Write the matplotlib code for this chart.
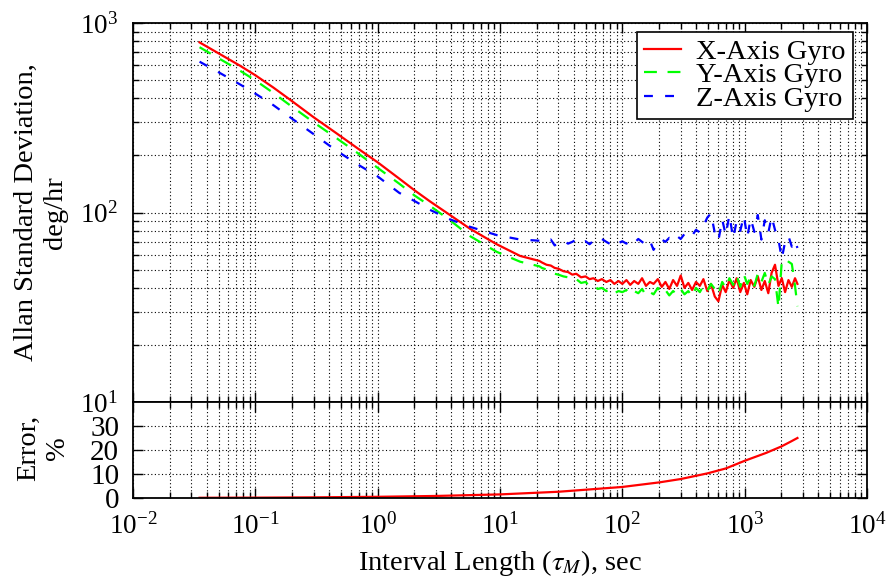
import matplotlib
matplotlib.use('Agg')
import matplotlib.pyplot as plt
from matplotlib.ticker import LogLocator, NullFormatter, FixedLocator

plt.rcParams['font.family'] = ['Liberation Serif', 'DejaVu Serif']
plt.rcParams['mathtext.fontset'] = 'stix'

# ---- data ----
tau_smooth = [0.035, 0.05, 0.075, 0.1, 0.14, 0.19, 0.3, 0.46, 0.7, 1.0, 1.5,
              2.0, 2.7, 3.9, 5.7, 9.4, 14.6, 21]
tau_noisy = [22, 24, 26, 28, 30, 33, 36, 39, 42, 46, 50, 54, 58, 63, 68, 74, 80,
             86, 93, 100, 108, 116, 125, 135, 145, 156, 168, 180, 195, 210, 225,
             242, 260, 280, 300, 322, 346, 372, 400, 430, 460, 495, 530, 570,
             610, 655, 700, 750, 805, 860, 920, 985, 1050, 1120, 1200, 1280,
             1370, 1460, 1560, 1660, 1770, 1890, 2010, 2140, 2280, 2430, 2580,
             2700]

x_smooth = [790, 692, 595, 530, 457, 396, 318, 262, 216, 184, 151, 131, 114,
            97, 82, 68, 59, 55.5]
x_noisy = [54.5, 53, 52.5, 51, 50.5, 49, 48.5, 47, 47.5, 45.5, 46, 44.5, 45,
           43.5, 44.5, 43, 44, 42, 43.5, 42, 44, 41.5, 43.5, 42, 45, 41, 43,
           42, 44.5, 40.5, 43, 39.5, 44, 41, 46.5, 40, 42.5, 39, 43, 41, 44.5,
           38.5, 42, 36, 34, 41.5, 38, 44, 40, 45, 38, 42.5, 37, 44, 40.5, 46,
           39, 43.5, 37.5, 48, 53, 41, 45, 38, 44, 40.5, 45, 42]

y_smooth = [745, 652, 560, 498, 428, 370, 299, 247, 204, 172, 142, 123, 108,
            91, 75, 62, 55, 52]
y_noisy = [51, 50, 49.5, 47.5, 47, 46, 45.5, 44, 44.5, 42.5, 43, 41, 41.5,
           39.5, 40, 38.5, 39.5, 37.5, 38.5, 38, 39, 37, 38.5, 37.5, 39.5, 36.5,
           38, 37, 40, 37.5, 39, 36.5, 38.5, 37, 39.5, 37, 38.5, 36, 40, 38, 41,
           38.5, 42, 39.5, 37, 43, 40, 45, 41.5, 46.5, 40.5, 47, 42, 45.5, 41,
           47.5, 43, 48, 41.5, 46, 44.5, 31.5, 55, 57, 55, 53.5, 41, 32]

z_smooth = [625, 550, 474, 424, 369, 320, 259, 212, 178, 155, 127, 115, 103,
            92, 84, 76, 72, 71]
z_noisy = [71.5, 70, 72, 67, 69.5, 71, 68.5, 70, 72, 69, 70.5, 68, 71, 69.5,
           72.5, 70, 68, 71, 69, 70.5, 68.5, 71.5, 69, 72.5, 70, 67.5, 71, 63.5,
           69, 72, 70, 73.5, 71, 75, 72.5, 77, 79, 75.5, 81, 78.5, 85, 94, 99, 78,
           71, 92, 76, 97, 73, 90, 80, 96, 74, 93, 79, 97, 72, 91, 78, 95, 81,
           72, 57, 70, 75, 66, 71, 65]

tau_err = [0.035, 0.1, 0.3, 1, 3, 10, 30, 100, 200, 300, 500, 700, 1000, 1500,
           2000, 2400, 2700]
err_pct = [0.1, 0.15, 0.27, 0.5, 0.85, 1.5, 2.6, 4.6, 6.5, 7.9, 10.3, 12.3,
           15.5, 18.8, 21.5, 23.6, 25]

labels = ['X-Axis Gyro', 'Y-Axis Gyro', 'Z-Axis Gyro']
err_ticks = [0, 10, 20, 30]

# ---- figure ----
fig = plt.figure(figsize=(8.88, 5.78), dpi=100)
W, H = 888.0, 578.0
L, R = 133, 867
ax1 = fig.add_axes([L / W, (H - 402) / H, (R - L) / W, (402 - 23) / H])
ax2 = fig.add_axes([L / W, (H - 498) / H, (R - L) / W, (498 - 402) / H],
                   sharex=ax1)

tau = tau_smooth + tau_noisy
ax1.plot(tau, x_smooth + x_noisy, color='#ff0000', lw=1.6, label=labels[0])
ax1.plot(tau, y_smooth + y_noisy, color='#00ff00', lw=1.6,
         ls=(0, (5.8, 4.8)), label=labels[1])
ax1.plot(tau, z_smooth + z_noisy, color='#0000ff', lw=1.6,
         ls=(0, (4, 5.5)), label=labels[2])
ax1.set_xscale('log')
ax1.set_yscale('log')
ax1.set_xlim(1e-2, 1e4)
ax1.set_ylim(10, 1000)

ax2.plot(tau_err, err_pct, color='#ff0000', lw=1.6)
ax2.set_ylim(0, 40)
ax2.yaxis.set_major_locator(FixedLocator(err_ticks))

grid_kw = dict(color='black', lw=0.8, ls=(0, (1, 2.2)))
for ax in (ax1, ax2):
    ax.xaxis.set_major_locator(LogLocator(base=10, numticks=20))
    ax.xaxis.set_minor_locator(LogLocator(base=10, subs=range(2, 10), numticks=100))
    ax.grid(True, which='major', **grid_kw)
    ax.grid(True, which='minor', axis='x', **grid_kw)
    ax.tick_params(which='both', direction='in', top=True, right=True,
                   width=1.0, labelsize=19.5, pad=11)
    ax.tick_params(which='major', length=7)
    ax.tick_params(which='minor', length=4)
    for s in ax.spines.values():
        s.set_linewidth(1.3)
ax1.yaxis.set_minor_locator(LogLocator(base=10, subs=range(2, 10), numticks=100))
ax1.yaxis.set_minor_formatter(NullFormatter())
ax1.grid(True, which='minor', axis='y', **grid_kw)
ax1.tick_params(labelbottom=False)
ax2.xaxis.set_minor_formatter(NullFormatter())
ax2.tick_params(axis='y', labelsize=21, pad=10)

ax1.set_ylabel('Allan Standard Deviation,\ndeg/hr', fontsize=20.5)
ax1.yaxis.set_label_coords((68 - L) / (R - L), 0.5)
ax2.set_ylabel('Error,\n%', fontsize=20.5)
ax2.yaxis.set_label_coords((70 - L) / (R - L), 0.52)
ax2.set_xlabel('Interval Length ($\\tau_M$), sec', fontsize=20.5, labelpad=6)

leg = ax1.legend(loc='upper right',
                 bbox_to_anchor=((853 - L) / (R - L), (402 - 31.7) / (402 - 23)),
                 borderaxespad=0, fontsize=20.5, frameon=True, fancybox=False,
                 edgecolor='black', framealpha=1, labelspacing=-0.08,
                 handlelength=1.3, handletextpad=0.55, borderpad=0.25)
leg.get_frame().set_linewidth(1.2)

fig.savefig('out.png', dpi=100)
